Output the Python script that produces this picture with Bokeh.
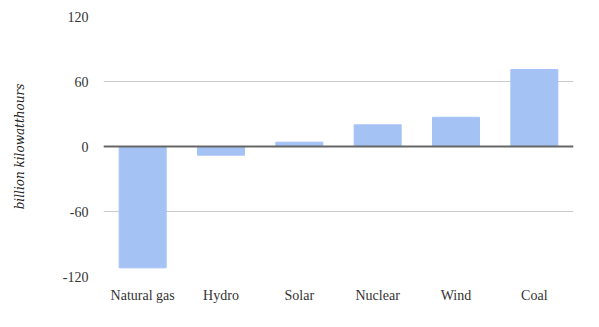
from bokeh.plotting import figure
from bokeh.models import Span, FixedTicker, ColumnDataSource
from bokeh.embed import file_html
from bokeh.resources import INLINE

categories = ["Natural gas", "Hydro", "Solar", "Nuclear", "Wind", "Coal"]
values = [-112, -8, 4, 20, 27, 71]
y_ticks = [-120, -60, 0, 60, 120]
y_tick_labels = ["-120", "-60", "0", "60", "120"]

src = ColumnDataSource(data=dict(cat=categories, val=values))

p = figure(x_range=categories, y_range=(-120, 120),
           output_backend="svg", toolbar_location=None,
           min_border_left=103, min_border_right=26, min_border_top=16, min_border_bottom=51)
p.frame_width = 470
p.frame_height = 260
p.outline_line_color = None

p.vbar(x="cat", top="val", bottom=0, width=0.6, source=src,
       fill_color="#a4c2f4", line_color="#a4c2f4")

p.add_layout(Span(location=0, dimension="width", line_color="#666666", line_width=2))

p.yaxis.ticker = FixedTicker(ticks=y_ticks)
p.yaxis.major_label_overrides = {t: s for t, s in zip(y_ticks, y_tick_labels)}
p.xgrid.grid_line_color = None
p.ygrid.grid_line_color = "#cccccc"
p.ygrid.grid_line_width = 1

for ax in (p.xaxis[0], p.yaxis[0]):
    ax.axis_line_color = None
    ax.major_tick_line_color = None
    ax.minor_tick_line_color = None
    ax.major_label_text_font = "Liberation Serif"
    ax.major_label_text_font_size = "14px"
    ax.major_label_text_color = "#333333"

p.yaxis.major_label_standoff = 9
p.xaxis.major_label_standoff = 5
p.yaxis.axis_label = "billion kilowatthours"
p.yaxis.axis_label_text_font = "DejaVu Serif"
p.yaxis.axis_label_text_font_style = "italic"
p.yaxis.axis_label_text_font_size = "12px"
p.yaxis.axis_label_text_color = "#222222"
p.yaxis.axis_label_standoff = 33

open("out.html", "w").write(file_html(p, INLINE))
